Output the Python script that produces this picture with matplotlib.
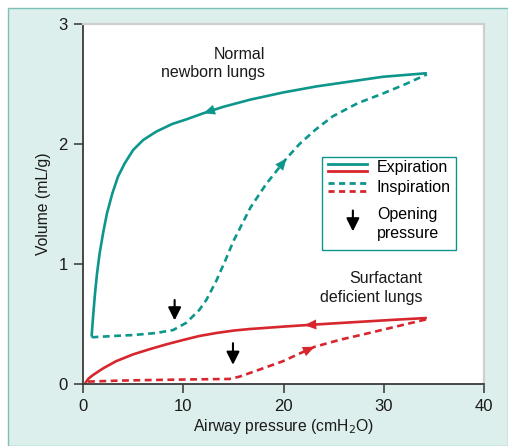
import numpy as np
import matplotlib.pyplot as plt
from matplotlib.patches import Rectangle
from matplotlib.lines import Line2D

plt.rcParams['font.family'] = ['Liberation Sans', 'DejaVu Sans']

TEAL = '#0d968b'
RED = '#d7262d'
PANEL = '#ddefec'

# normal newborn lungs, expiration (high to low pressure)
norm_exp_x = [34.3, 29.9, 26.6, 23.3, 20.0, 16.7, 14.0, 12.0, 10.3, 8.9, 7.3, 6.0, 5.0,
              4.16, 3.49, 2.93, 2.39, 2.0, 1.66, 1.40, 1.20, 1.06, 0.93, 0.86]
norm_exp_y = [2.59, 2.56, 2.52, 2.48, 2.43, 2.37, 2.31, 2.256, 2.205, 2.167, 2.103, 2.033, 1.95,
              1.839, 1.728, 1.589, 1.422, 1.256, 1.089, 0.922, 0.756, 0.617, 0.478, 0.395]
# normal newborn lungs, inspiration
norm_insp_x = [0.86, 1.0, 3.0, 5.0, 7.3, 9.0, 10.3, 11.6, 12.3, 13.3, 14.2, 15.0, 16.7, 18.3,
               20.3, 21.6, 23.2, 24.9, 27.4, 29.9, 32.2, 34.3]
norm_insp_y = [0.395, 0.39, 0.40, 0.408, 0.425, 0.45, 0.51, 0.617, 0.70, 0.86, 1.03, 1.19, 1.47,
               1.67, 1.88, 2.00, 2.12, 2.23, 2.34, 2.42, 2.50, 2.58]

# surfactant deficient lungs, expiration
def_exp_x = [34.3, 31.0, 28.0, 25.0, 22.1, 19.95, 18.3, 16.6, 15.0, 13.3, 11.6, 10.0, 8.3,
             6.65, 5.0, 3.3, 2.0, 1.0, 0.55, 0.33, 0.2]
def_exp_y = [0.55, 0.535, 0.52, 0.505, 0.49, 0.478, 0.468, 0.458, 0.445, 0.425, 0.40, 0.367, 0.33,
             0.29, 0.247, 0.19, 0.13, 0.075, 0.045, 0.02, 0.0]
# surfactant deficient lungs, inspiration
def_insp_x = [0.5, 3.5, 6.65, 10.5, 14.6, 15.6, 17.3, 19.95, 21.5, 23.1, 25.7, 28.3, 31.3, 34.3]
def_insp_y = [0.02, 0.028, 0.033, 0.038, 0.042, 0.061, 0.111, 0.19, 0.25, 0.31, 0.37, 0.42,
              0.48, 0.54]

# opening pressure markers (x, top y, bottom y)
open_x = [9.14, 14.96]
open_top = [0.70, 0.34]
open_bot = [0.53, 0.16]

# direction arrow positions (index into each curve)
arrow_idx = {'ne': 7, 'ni': 14, 'de': 4, 'di': 9}

fig = plt.figure(figsize=(5.08, 4.46), dpi=100)
fig.patches.append(Rectangle((8 / 508, 0), 500 / 508, 438 / 446, transform=fig.transFigure,
                             facecolor=PANEL, edgecolor='#7cc1b7', lw=1.0, zorder=-1))

ax = fig.add_axes([83 / 508, 62 / 446, 401 / 508, 360 / 446])
ax.set_facecolor('white')

lw = 1.9
dash = (0, (2.6, 1.7))
ax.plot(norm_exp_x, norm_exp_y, color=TEAL, lw=lw, solid_capstyle='butt', solid_joinstyle='round')
ax.plot(norm_insp_x, norm_insp_y, color=TEAL, lw=lw, ls=dash)
ax.plot(def_exp_x, def_exp_y, color=RED, lw=lw, solid_capstyle='butt', solid_joinstyle='round')
ax.plot(def_insp_x, def_insp_y, color=RED, lw=lw, ls=dash)


def head(xs, ys, i, color):
    ax.annotate('', xy=(xs[i], ys[i]), xytext=(xs[i - 1], ys[i - 1]),
                arrowprops=dict(arrowstyle='-|>,head_length=0.7,head_width=0.3',
                                color=color, lw=0.01, shrinkA=0, shrinkB=0,
                                mutation_scale=12))


head(norm_exp_x, norm_exp_y, arrow_idx['ne'], TEAL)
head(norm_insp_x, norm_insp_y, arrow_idx['ni'], TEAL)
head(def_exp_x, def_exp_y, arrow_idx['de'], RED)
head(def_insp_x, def_insp_y, arrow_idx['di'], RED)

arrow_black = dict(arrowstyle='-|>,head_length=0.6,head_width=0.3', color='black',
                   lw=1.5, shrinkA=0, shrinkB=0, mutation_scale=13)
for x, t, b in zip(open_x, open_top, open_bot):
    ax.annotate('', xy=(x, b), xytext=(x, t), arrowprops=arrow_black)

ax.text(18.15, 2.67, 'Normal\nnewborn lungs', ha='right', va='center', fontsize=11.5,
        linespacing=1.3, color='#1a1a1a')
ax.text(33.9, 0.80, 'Surfactant\ndeficient lungs', ha='right', va='center', fontsize=11.5,
        linespacing=1.3, color='#1a1a1a')

# legend box
tr = ax.transAxes
ax.add_patch(Rectangle((0.596, 0.372), 0.334, 0.258, transform=tr, facecolor='white',
                       edgecolor=TEAL, lw=1.0, zorder=4))
ax.add_line(Line2D([0.611, 0.708], [0.610, 0.610], transform=tr, color=TEAL, lw=2.0, zorder=5))
ax.add_line(Line2D([0.611, 0.708], [0.591, 0.591], transform=tr, color=RED, lw=2.0, zorder=5))
ax.add_line(Line2D([0.611, 0.708], [0.557, 0.557], transform=tr, color=TEAL, lw=2.0,
                   ls=(0, (2.2, 1.6)), zorder=5))
ax.add_line(Line2D([0.611, 0.708], [0.537, 0.537], transform=tr, color=RED, lw=2.0,
                   ls=(0, (2.2, 1.6)), zorder=5))
ax.annotate('', xy=(0.673, 0.424), xytext=(0.673, 0.482), xycoords=tr,
            arrowprops=arrow_black, zorder=6)
ax.text(0.733, 0.600, 'Expiration', transform=tr, fontsize=11.5, va='center', zorder=6)
ax.text(0.733, 0.546, 'Inspiration', transform=tr, fontsize=11.5, va='center', zorder=6)
ax.text(0.733, 0.470, 'Opening', transform=tr, fontsize=11.5, va='center', zorder=6)
ax.text(0.733, 0.418, 'pressure', transform=tr, fontsize=11.5, va='center', zorder=6)

ax.set_xlim(0, 40)
ax.set_ylim(0, 3)
ax.set_xticks([0, 10, 20, 30, 40])
ax.set_yticks([0, 1, 2, 3])
ax.tick_params(direction='out', length=6.5, width=1.1, color='#333333', labelsize=12,
               pad=4.5, labelcolor='#1a1a1a')
for s in ['left', 'bottom']:
    ax.spines[s].set_color('#3a3a3a')
    ax.spines[s].set_linewidth(1.3)
for s in ['top', 'right']:
    ax.spines[s].set_color('#cfcfcf')
    ax.spines[s].set_linewidth(1.6)

ax.set_xlabel('Airway pressure (cmH$_2$O)', fontsize=11.3, labelpad=2, color='#1a1a1a')
ax.set_ylabel('Volume (mL/g)', fontsize=11.3, labelpad=5, color='#1a1a1a')

fig.savefig('out.png', dpi=100)
